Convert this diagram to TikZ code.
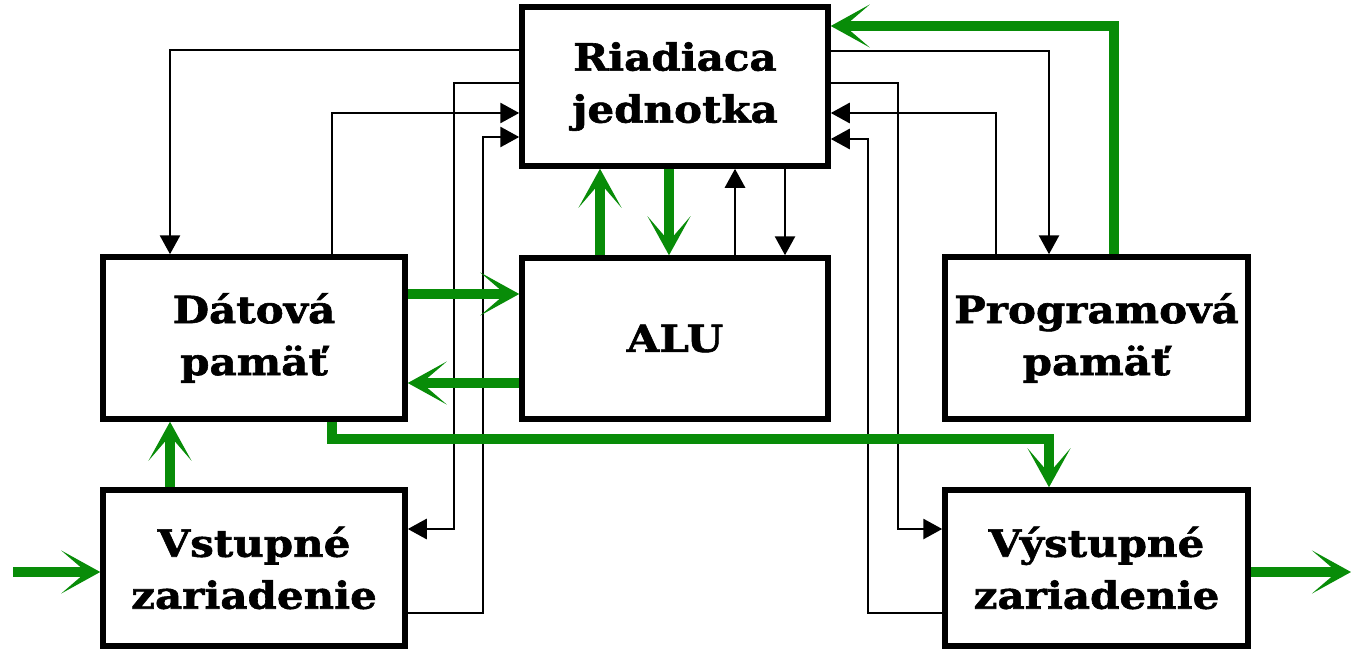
\documentclass[tikz,border=0pt]{standalone}
\usepackage{fontspec}
\setmainfont{DejaVu Serif}[BoldFeatures={FakeStretch=1.12,FakeBold=1.6}]
\usetikzlibrary{arrows.meta}
\definecolor{grn}{RGB}{8,140,8}
\begin{document}
\begin{tikzpicture}[x=1pt,y=-1pt,
  box/.style={draw,line width=5.5pt,fill=white,inner sep=0pt,align=center,
    font=\fontsize{37.5}{52}\selectfont\bfseries},
  blk/.style={line width=2.8pt,-{Triangle[length=19pt,width=20pt]}},
  gr/.style={draw=grn,line width=9.5pt,-{Stealth[length=39pt,width=43pt,inset=25pt]},color=grn}]
\useasboundingbox (0,0) rectangle (1351,650);
\node[box,minimum width=306pt,minimum height=159pt] (R) at (675,86.5) {Riadiaca\\jednotka};
\node[box,minimum width=302pt,minimum height=162pt] (D) at (254,338) {Dátová\\pamäť};
\node[box,minimum width=306pt,minimum height=161pt] (A) at (675,338.5) {ALU};
\node[box,minimum width=303pt,minimum height=162pt] (P) at (1096.5,338) {Programová\\pamäť};
\node[box,minimum width=302pt,minimum height=156pt] (V) at (254,568) {Vstupné\\zariadenie};
\node[box,minimum width=303pt,minimum height=156pt] (Y) at (1096.5,568) {Výstupné\\zariadenie};
\coordinate (in) at (13,572);
\coordinate (out) at (1351,572);
% black connectors
\draw[blk] (R.west |- 0,50) -| (D.north -| 170,0);
\draw[blk] (D.north -| 332,0) |- (R.west |- 0,113);
\draw[blk] (R.west |- 0,83) -| (454,529) -- (V.east |- 0,529);
\draw[blk] (V.east |- 0,613) -| (483,137) -- (R.west |- 0,137);
\draw[blk] (R.east |- 0,51) -| (P.north -| 1049,0);
\draw[blk] (P.north -| 996,0) |- (R.east |- 0,113);
\draw[blk] (R.east |- 0,83) -| (898,529) -- (Y.west |- 0,529);
\draw[blk] (Y.west |- 0,613) -| (868,139) -- (R.east |- 0,139);
\draw[blk] (A.north -| 735,0) -- (R.south -| 735,0);
\draw[blk] (R.south -| 785,0) -- (A.north -| 785,0);
% green connectors
\draw[gr] (A.north -| 600,0) -- (R.south -| 600,0);
\draw[gr] (R.south -| 669,0) -- (A.north -| 669,0);
\draw[gr] (D.east |- 0,294) -- (A.west |- 0,294);
\draw[gr] (A.west |- 0,383) -- (D.east |- 0,383);
\draw[gr] (V.north -| 170,0) -- (D.south -| 170,0);
\draw[gr] (D.south -| 332,0) |- (1049,439) -- (Y.north -| 1049,0);
\draw[gr] (P.north -| 1114,0) |- (R.east |- 0,26);
\draw[gr] (in) -- (V.west |- 0,572);
\draw[gr] (Y.east |- 0,572) -- (out);
\end{tikzpicture}
\end{document}
